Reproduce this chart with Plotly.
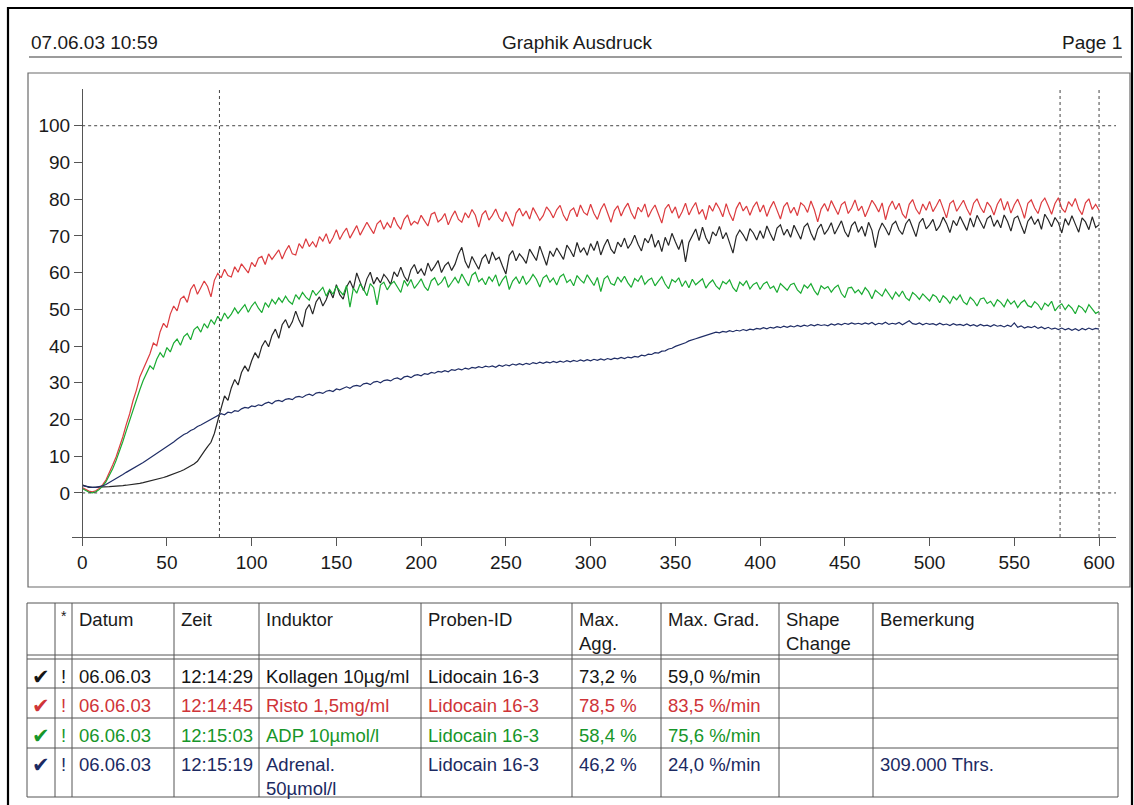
import plotly.graph_objects as go

W, H = 1134, 805

# Sampling grid of the aggregometer traces (seconds)
time_s = list(range(0, 601, 2))

kollagen = [
    2.2, 1.8, 1.5, 1.5, 1.5, 1.5, 1.6, 1.6, 1.7, 1.8,
    1.8, 1.9, 2.0, 2.1, 2.2, 2.3, 2.5, 2.6, 2.8, 3.0,
    3.2, 3.4, 3.6, 3.9, 4.2, 4.5, 4.8, 5.1, 5.5, 5.9,
    6.3, 6.8, 7.3, 7.9, 8.6, 9.8, 11.3, 12.6, 13.8, 16.2,
    20.0, 23.1, 26.4, 25.2, 28.6, 30.9, 29.4, 32.8, 34.6, 33.1,
    36.0, 38.2, 36.7, 39.9, 41.5, 39.8, 42.9, 44.6, 42.1, 45.8,
    47.2, 44.9, 46.6, 49.5, 47.0, 45.2, 49.8, 51.3, 48.7, 52.0,
    53.4, 50.9, 52.6, 55.2, 53.1, 56.7, 54.0, 52.8, 56.1, 57.8,
    55.6, 59.9, 57.4, 55.1, 58.3, 60.1, 56.9, 58.7, 57.2, 59.5,
    58.4, 56.8, 60.2, 58.9, 61.5, 59.0, 57.6, 60.8, 62.2, 59.7,
    61.0, 59.2, 62.6, 60.4, 61.7, 63.3, 60.0, 61.9, 62.8, 60.6,
    62.3, 65.1, 66.9, 63.0, 61.2, 64.4, 62.6, 60.9, 63.8, 64.9,
    62.4, 65.6, 63.5, 64.2, 61.8, 59.6, 64.7, 66.0, 63.2, 65.1,
    64.0, 62.5, 66.4, 65.0, 63.3, 67.2, 64.8, 62.0, 65.9, 64.4,
    66.7, 65.2, 63.6, 67.5, 66.1, 64.3, 68.2, 65.5, 66.8, 64.7,
    67.9, 66.0, 68.6, 64.8, 67.3, 69.1, 66.4, 65.2, 68.3, 67.0,
    69.4, 66.6, 68.0, 70.2, 67.7, 65.9, 69.3, 68.1, 70.5, 66.9,
    68.8, 65.7, 69.6, 67.4, 70.7, 68.4, 66.3, 69.0, 62.9, 68.2,
    70.3, 71.9, 68.7, 72.4, 69.5, 67.8, 71.1, 70.0, 72.6, 69.2,
    70.9, 68.0, 65.3, 69.9, 71.6, 70.3, 68.6, 72.0, 70.8, 68.9,
    71.4, 69.3, 72.7, 70.6, 68.7, 72.1, 73.0, 70.2, 71.8, 69.6,
    72.9, 71.0, 69.1, 72.5, 73.4, 70.7, 68.8, 71.9, 73.2, 70.4,
    71.7, 73.6, 70.5, 72.3, 74.1, 71.2, 69.7, 72.8, 73.9, 71.0,
    72.6, 69.9, 73.7, 71.5, 66.8, 71.3, 73.5, 72.0, 70.2, 73.1,
    74.0, 71.6, 70.4, 73.3, 74.6, 72.2, 69.8, 73.6, 74.8, 71.9,
    73.0, 74.5, 71.4, 72.7, 75.1, 73.4, 70.9, 74.2, 72.8, 75.3,
    73.6, 71.5, 74.9, 72.4, 75.6, 73.8, 72.0, 74.7, 75.5, 72.6,
    74.3, 72.2, 75.7, 73.9, 71.3, 74.8, 75.4, 72.9, 70.6, 74.0,
    75.2, 73.1, 74.6, 71.8, 75.9, 74.4, 72.5, 75.0, 73.6, 70.8,
    74.7, 72.9, 75.5, 73.2, 71.0, 74.9, 73.8, 71.7, 75.2, 72.3,
    73.0,
]

risto = [
    1.5, 1.0, 0.5, 0.3, 0.6, 1.2, 2.2, 3.5, 5.4, 7.6,
    9.8, 12.4, 15.3, 18.6, 21.5, 25.1, 28.0, 31.6, 33.8, 36.2,
    37.9, 40.8, 40.1, 43.9, 46.2, 45.0, 48.7, 50.9, 49.6, 52.8,
    53.6, 51.9, 55.4, 56.8, 54.1, 55.9, 57.7, 56.2, 53.4, 57.9,
    59.8, 58.6, 60.9, 59.2, 58.8, 61.6, 60.1, 62.4, 61.0, 59.9,
    62.8, 61.6, 63.9, 64.4, 62.2, 65.1, 63.6, 64.9, 66.2, 63.7,
    65.9, 67.4, 65.1, 64.8, 67.9, 66.6, 69.2, 67.1, 68.4, 66.9,
    69.8, 68.6, 70.6, 67.9, 69.5, 71.7, 69.0, 70.8, 72.1, 69.4,
    71.3, 72.8, 70.2, 71.9, 73.7, 72.1, 70.6, 73.3, 74.2, 71.8,
    73.6, 72.2, 75.1, 73.0, 71.8, 74.5, 75.7, 72.9, 74.0, 73.3,
    75.6, 74.1, 72.7, 75.9, 76.4, 73.8, 74.6, 76.1, 73.0, 75.2,
    76.8, 74.5, 73.7, 76.3, 74.9, 77.2, 75.6, 72.4, 75.8, 76.9,
    74.3, 75.6, 77.3, 75.0, 73.9, 76.6, 74.7, 72.6, 76.2, 77.5,
    75.4, 76.8, 74.6, 77.7, 76.0, 74.2, 75.5, 77.9, 76.7, 74.9,
    77.1, 78.3, 75.6, 74.1, 76.8, 77.6, 75.2, 78.4, 76.4, 75.7,
    78.6, 76.1, 74.5, 77.2, 78.8, 76.0, 73.7, 76.9, 78.2, 75.4,
    77.5, 78.9, 76.3, 74.6, 77.8, 76.5, 78.7, 75.1, 77.0, 78.4,
    75.8, 73.5, 77.4, 78.6, 76.2, 77.9, 74.8, 76.6, 78.9, 75.7,
    77.6, 79.1, 75.9, 77.2, 74.4, 78.3, 76.7, 79.0, 77.4, 75.2,
    78.8, 76.0, 74.1, 77.5, 79.2, 76.8, 78.1, 75.6, 77.9, 79.3,
    76.5, 78.4, 75.3, 77.7, 79.4, 76.9, 74.6, 78.0, 79.1, 76.2,
    77.8, 75.5, 79.0, 78.2, 76.4, 79.5, 77.1, 73.8, 77.3, 78.8,
    76.7, 79.6, 77.9, 75.8, 78.5, 79.3, 76.1, 77.6, 79.8, 76.8,
    78.1, 75.2, 77.4, 79.7, 78.3, 76.5, 79.0, 74.4, 77.8, 79.5,
    77.2, 78.9, 76.0, 74.8, 78.6, 79.9, 77.3, 75.9, 78.7, 77.0,
    79.4, 76.6, 78.2, 80.0, 77.5, 74.9, 78.8, 79.6, 76.7, 78.1,
    79.7, 77.4, 75.6, 78.9, 80.1, 77.8, 76.3, 79.2, 78.0, 75.7,
    78.6, 80.2, 77.0, 79.4, 76.2, 78.5, 80.0, 77.7, 74.8, 78.9,
    79.8, 77.6, 76.1, 79.1, 80.3, 78.2, 75.9, 78.8, 80.4, 77.5,
    76.4, 79.3, 78.1, 80.2, 77.3, 75.8, 79.0, 80.1, 77.2, 78.6,
    77.0,
]

adp = [
    1.2, 0.6, 0.2, 0.0, 0.3, 0.9, 1.8, 3.0, 4.6, 6.6,
    8.8, 11.3, 14.0, 16.9, 19.8, 22.6, 25.3, 28.1, 30.6, 32.4,
    34.6, 33.7, 36.4, 38.2, 36.9, 39.6, 38.4, 40.8, 41.9, 40.2,
    42.6, 43.4, 41.7, 44.5, 45.3, 43.8, 46.1, 44.9, 47.2, 46.0,
    48.1, 46.8, 49.0, 47.5, 48.7, 50.4, 48.9, 50.1, 51.3, 49.2,
    50.9, 52.0, 50.3, 49.1, 51.8, 50.6, 52.7, 51.5, 53.1, 51.9,
    53.6, 52.2, 51.4, 54.0, 52.8, 54.6, 53.3, 52.5, 55.2, 53.8,
    54.9, 56.0, 53.6, 55.4, 54.1, 56.3, 55.0, 53.9, 56.5, 50.6,
    55.8, 54.4, 56.9, 55.5, 53.7, 57.0, 55.9, 51.2, 56.6, 57.4,
    55.3, 56.8, 57.6, 55.9, 54.6, 57.9, 56.4, 58.1, 55.7, 56.9,
    58.3, 56.2, 55.1, 57.8, 58.6, 56.6, 57.4, 58.9, 56.0, 57.3,
    58.7, 57.1, 59.6, 57.9, 56.4, 59.3, 60.1, 57.5, 58.4, 56.7,
    58.9, 57.6, 59.4, 56.3, 58.0, 59.2, 55.4, 57.7, 58.8, 57.0,
    59.1, 56.8, 57.9, 59.5, 58.2, 56.1, 58.6, 59.3, 57.4, 58.5,
    56.6, 58.9, 59.6, 57.3, 58.1, 56.4, 59.2, 58.0, 57.2, 59.4,
    57.8, 56.5, 58.7, 54.8, 58.3, 59.1, 57.0, 56.6, 58.8, 57.5,
    59.0, 57.2, 56.0, 58.4, 57.6, 59.2, 56.8, 57.9, 58.5, 56.4,
    57.7, 58.9, 56.9, 55.6, 58.1, 57.4, 58.6, 56.2, 57.8, 55.9,
    58.2, 56.7, 57.5, 58.3, 55.8, 57.1, 58.0, 56.4, 55.5, 57.6,
    56.9, 58.0, 55.9, 54.8, 57.4, 56.5, 57.8, 55.6, 56.8, 57.3,
    55.4, 56.9, 57.5, 55.7, 56.3, 54.6, 57.0, 56.1, 55.2, 56.7,
    57.1, 55.3, 54.4, 56.6, 55.8, 57.0, 55.1, 53.9, 56.4, 55.6,
    56.2, 54.7, 55.9, 56.6, 54.3, 53.2, 55.8, 56.0, 54.5, 55.3,
    54.1, 55.9, 54.8, 52.9, 55.2, 54.4, 53.6, 55.5, 54.0, 52.8,
    54.7, 53.5, 55.0, 53.2, 52.4, 54.6, 53.8, 52.7, 54.2, 53.1,
    52.3, 54.0, 53.4, 51.8, 53.7, 52.9, 51.6, 53.5, 52.6, 53.9,
    52.0, 51.3, 53.3, 52.4, 50.9, 52.8, 53.1, 51.6, 52.2, 50.8,
    52.6, 51.9, 50.7, 52.7, 51.4, 52.3, 50.5, 51.8, 52.5, 51.0,
    50.6, 52.1, 51.3, 49.8, 51.7, 50.9, 52.2, 49.6, 50.8, 51.5,
    49.9, 51.2, 50.3, 48.8, 51.0, 50.4, 49.2, 51.3, 50.1, 48.9,
    49.4,
]

adrenal = [
    2.0, 1.8, 1.6, 1.5, 1.5, 1.6, 1.9, 2.3, 2.8, 3.3,
    3.9, 4.5, 5.0, 5.6, 6.1, 6.7, 7.2, 7.8, 8.3, 8.9,
    9.5, 10.2, 10.7, 11.4, 11.9, 12.6, 13.1, 13.9, 14.6, 15.3,
    15.9, 16.3, 17.0, 17.4, 18.1, 18.5, 19.0, 19.6, 19.9, 20.6,
    20.9, 21.6, 21.3, 22.0, 21.8, 22.4, 22.2, 22.9, 23.3, 23.1,
    23.7, 23.5, 24.0, 23.8, 24.4, 24.7, 24.3, 25.0, 25.2, 24.9,
    25.5, 25.7, 25.4, 26.1, 26.3, 26.0, 26.6, 26.9, 26.5, 27.2,
    27.4, 27.1, 27.7, 27.9, 27.6, 28.3, 28.1, 28.6, 28.9, 28.5,
    29.1, 29.3, 29.0, 29.7, 29.9, 29.5, 30.2, 30.4, 30.0, 30.6,
    30.8, 30.5, 31.1, 31.3, 30.9, 31.6, 31.8, 31.4, 32.0, 32.2,
    31.9, 32.5, 32.3, 32.8, 32.6, 33.1, 32.9, 33.3, 33.0, 33.6,
    33.4, 33.8, 33.5, 34.0, 33.7, 34.2, 34.0, 34.4, 34.1, 34.5,
    34.3, 34.6, 34.2, 34.8, 34.5, 34.9, 34.6, 35.1, 34.8, 35.2,
    34.9, 35.3, 35.0, 35.5, 35.2, 35.6, 35.3, 35.7, 35.4, 35.8,
    35.5, 35.9, 35.6, 36.0, 35.7, 36.1, 35.8, 36.2, 35.9, 36.3,
    36.0, 36.4, 36.1, 36.5, 36.2, 36.6, 36.3, 36.7, 36.5, 36.9,
    36.6, 37.0, 36.8, 37.2, 37.0, 37.5, 37.3, 37.8, 37.7, 38.2,
    38.1, 38.6, 38.7, 39.2, 39.4, 39.9, 40.2, 40.6, 40.9, 41.4,
    41.6, 42.0, 42.3, 42.6, 42.9, 43.3, 43.4, 43.8, 43.6, 44.0,
    43.8, 44.2, 43.9, 44.3, 44.1, 44.5, 44.2, 44.6, 44.4, 44.8,
    44.6, 45.0, 44.7, 45.1, 44.9, 45.3, 45.0, 45.4, 45.1, 45.5,
    45.2, 45.6, 45.3, 45.7, 45.4, 45.8, 45.5, 45.9, 45.6, 45.8,
    45.5, 46.0, 45.7, 46.1, 45.8, 46.2, 45.9, 46.3, 46.0, 46.2,
    45.9, 46.3, 46.0, 46.4, 45.8, 46.2, 46.0, 46.5, 45.9, 46.2,
    46.0, 46.4, 45.8, 46.3, 46.9, 46.1, 45.9, 46.3, 45.8, 46.2,
    45.9, 46.1, 45.7, 46.2, 45.8, 46.0, 45.6, 46.1, 45.7, 45.9,
    45.6, 46.0, 45.5, 45.8, 45.4, 45.9, 45.5, 45.7, 45.3, 45.8,
    45.4, 45.6, 45.2, 45.7, 45.3, 46.3, 45.1, 45.5, 44.9, 45.3,
    45.0, 45.4, 44.8, 45.2, 44.7, 45.1, 44.6, 44.9, 44.5, 44.9,
    44.4, 44.8, 44.3, 44.7, 44.2, 44.8, 44.4, 44.9, 44.5, 44.8,
    44.6,
]

series = [kollagen, risto, adp, adrenal]
series_names = ["Kollagen 10µg/ml", "Risto 1,5mg/ml", "ADP 10µmol/l", "Adrenal. 50µmol/l"]
line_colors = ["#262626", "#dc3b3f", "#1aab32", "#1f2d66"]
text_colors = ["#151515", "#cf3438", "#17962a", "#1c2a62"]

x_ticks = list(range(0, 601, 50))
y_ticks = list(range(0, 101, 10))
cursor_times = [81, 577, 600]
ref_levels = [0, 100]

header_left = "07.06.03 10:59"
header_title = "Graphik Ausdruck"
header_right = "Page 1"

table_header = ["", "*", "Datum", "Zeit", "Induktor", "Proben-ID",
                "Max.<br>Agg.", "Max. Grad.", "Shape<br>Change", "Bemerkung"]
table_rows = [
    ["✔", "!", "06.06.03", "12:14:29", "Kollagen 10µg/ml", "Lidocain 16-3", "73,2 %", "59,0 %/min", "", ""],
    ["✔", "!", "06.06.03", "12:14:45", "Risto 1,5mg/ml", "Lidocain 16-3", "78,5 %", "83,5 %/min", "", ""],
    ["✔", "!", "06.06.03", "12:15:03", "ADP 10µmol/l", "Lidocain 16-3", "58,4 %", "75,6 %/min", "", ""],
    ["✔", "!", "06.06.03", "12:15:19", "Adrenal.<br>50µmol/l", "Lidocain 16-3", "46,2 %", "24,0 %/min", "", "309.000 Thrs."],
]

# Page geometry (pixels)
col_edges = [27, 55, 72, 174, 259, 421, 572, 661, 779, 873, 1118]
row_edges = [603, 655, 688, 718, 748, 797]
row_text_top = [607, 664, 693, 723, 752]

FONT = "Liberation Sans, Arial, sans-serif"
FS = 18.5


def px(x):
    return x / W


def py(y):
    return 1 - y / H


fig = go.Figure()

for vals, name, col in zip(series, series_names, line_colors):
    fig.add_trace(go.Scatter(
        x=time_s, y=vals, mode="lines", name=name,
        line=dict(color=col, width=1.2), showlegend=False,
    ))

shapes = []
# page frame and plot frame
shapes.append(dict(type="rect", xref="paper", yref="paper",
                   x0=px(8), x1=px(1132), y0=py(8), y1=py(830),
                   line=dict(color="#000000", width=2.2)))
shapes.append(dict(type="line", xref="paper", yref="paper",
                   x0=px(29), x1=px(1122), y0=py(57), y1=py(57),
                   line=dict(color="#7a7a7a", width=1.5)))
shapes.append(dict(type="rect", xref="paper", yref="paper",
                   x0=px(28), x1=px(1130), y0=py(73), y1=py(587),
                   line=dict(color="#6a6a6a", width=1.2)))

# dashed reference levels and cursors
for lv in ref_levels:
    shapes.append(dict(type="line", xref="x", yref="y", x0=0, x1=610, y0=lv, y1=lv,
                       line=dict(color="#444444", width=1, dash="3px,3px")))
for tc in cursor_times:
    shapes.append(dict(type="line", xref="x", yref="y", x0=tc, x1=tc, y0=-12, y1=110,
                       line=dict(color="#444444", width=1, dash="3px,3px")))

# table grid
grid = dict(color="#555555", width=1)
for cx in col_edges:
    shapes.append(dict(type="line", xref="paper", yref="paper",
                       x0=px(cx), x1=px(cx), y0=py(row_edges[0]), y1=py(row_edges[-1]), line=grid))
for ry in row_edges:
    shapes.append(dict(type="line", xref="paper", yref="paper",
                       x0=px(col_edges[0]), x1=px(col_edges[-1]), y0=py(ry), y1=py(ry), line=grid))
shapes.append(dict(type="line", xref="paper", yref="paper",
                   x0=px(col_edges[0]), x1=px(col_edges[-1]), y0=py(659), y1=py(659), line=grid))

annotations = []
head_font = dict(family=FONT, size=19, color="#1a1a1a")
annotations.append(dict(text=header_left, xref="paper", yref="paper", x=px(29), y=py(42),
                        xanchor="left", yanchor="middle", showarrow=False, font=head_font))
annotations.append(dict(text=header_title, xref="paper", yref="paper", x=px(577), y=py(42),
                        xanchor="center", yanchor="middle", showarrow=False, font=head_font))
annotations.append(dict(text=header_right, xref="paper", yref="paper", x=px(1124), y=py(42),
                        xanchor="right", yanchor="middle", showarrow=False, font=head_font))

# table header
for i, txt in enumerate(table_header):
    if not txt:
        continue
    if txt == "*":
        annotations.append(dict(text=txt, xref="paper", yref="paper", x=px(63.5), y=py(606),
                                xanchor="center", yanchor="top", showarrow=False,
                                font=dict(family=FONT, size=14, color="#1a1a1a")))
        continue
    annotations.append(dict(text=txt, xref="paper", yref="paper", x=px(col_edges[i] + 5),
                            y=py(row_text_top[0]), xanchor="left", yanchor="top", showarrow=False,
                            align="left", font=dict(family=FONT, size=FS, color="#1a1a1a")))

# table body
for r, row in enumerate(table_rows):
    col = text_colors[r]
    ytop = row_text_top[r + 1]
    for i, txt in enumerate(row):
        if not txt:
            continue
        if i == 0:
            annotations.append(dict(text=txt, xref="paper", yref="paper", x=px(41), y=py(ytop - 1),
                                    xanchor="center", yanchor="top", showarrow=False,
                                    font=dict(family="DejaVu Sans", size=21, color=col)))
        elif i == 1:
            annotations.append(dict(text=txt, xref="paper", yref="paper", x=px(63.5), y=py(ytop),
                                    xanchor="center", yanchor="top", showarrow=False,
                                    font=dict(family=FONT, size=FS, color=col)))
        else:
            annotations.append(dict(text=txt, xref="paper", yref="paper", x=px(col_edges[i] + 5),
                                    y=py(ytop), xanchor="left", yanchor="top", showarrow=False,
                                    align="left", font=dict(family=FONT, size=FS, color=col)))

x_lo, x_hi = -6, 610
y_lo, y_hi = -12, 110
fig.update_layout(
    width=W, height=H, autosize=False,
    margin=dict(l=0, r=0, t=0, b=0, pad=0),
    paper_bgcolor="white", plot_bgcolor="white",
    showlegend=False,
    xaxis=dict(
        range=[x_lo, x_hi], domain=[px(72), px(1116)], anchor="y",
        tickvals=x_ticks, ticks="outside", ticklen=8, tickcolor="#555555",
        showline=True, linecolor="#555555", linewidth=1.2,
        showgrid=False, zeroline=False,
        tickfont=dict(family=FONT, size=19, color="#1a1a1a"),
    ),
    yaxis=dict(
        range=[y_lo, y_hi], domain=[py(537), py(89)], anchor="free", position=px(82),
        tickvals=y_ticks, ticks="outside", ticklen=8, tickcolor="#555555",
        showline=True, linecolor="#555555", linewidth=1.2,
        showgrid=False, zeroline=False,
        tickfont=dict(family=FONT, size=19, color="#1a1a1a"),
    ),
    shapes=shapes,
    annotations=annotations,
)

fig.write_html("out.html")
